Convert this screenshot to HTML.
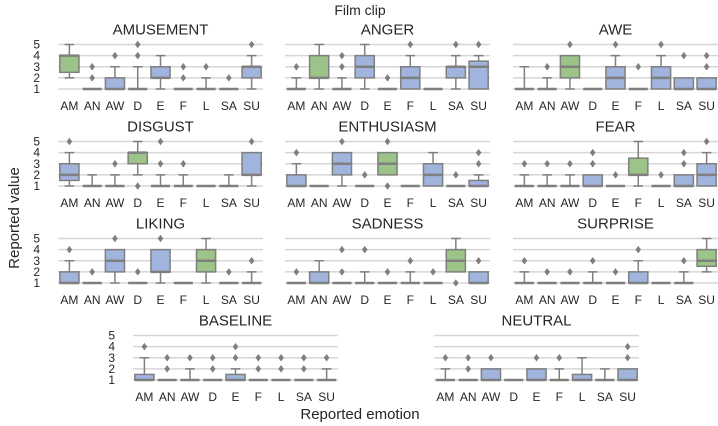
<!DOCTYPE html>
<html><head><meta charset="utf-8"><style>
html,body{margin:0;padding:0;background:#fff;}
svg{display:block;font-family:"Liberation Sans","DejaVu Sans",sans-serif;}
</style></head><body>
<svg id="chart" width="718" height="426" viewBox="0 0 718 426" xmlns="http://www.w3.org/2000/svg">
<text x="360" y="15" text-anchor="middle" font-size="14" fill="#262626">Film clip</text>
<text transform="translate(19,218) rotate(-90)" text-anchor="middle" font-size="15" fill="#262626">Reported value</text>
<text x="360" y="419" text-anchor="middle" font-size="15" fill="#262626">Reported emotion</text>
</svg>
<script>
const categories = ["AM","AN","AW","D","E","F","L","SA","SU"];
const yTicks = [1,2,3,4,5];
const panelTitles = ["AMUSEMENT","ANGER","AWE","DISGUST","ENTHUSIASM","FEAR","LIKING","SADNESS","SURPRISE","BASELINE","NEUTRAL"];
const highlightIndex = [0,1,2,3,4,5,6,7,8,-1,-1];
// stats per category: [whiskerLow, q1, median, q3, whiskerHigh]
const amusementStats = [[2,2.5,4,4,5],[1,1,1,1,1],[1,1,1,2,3],[1,1,1,1,3],[1,2,2,3,4],[1,1,1,1,1],[1,1,1,1,2],[1,1,1,1,1],[1,2,3,3,4]];
const amusementOut = [[],[2,3],[4],[4,5],[],[2,3],[3],[2],[5]];
const angerStats = [[1,1,1,1,2],[1,2,2,4,5],[1,1,1,1,2],[1,2,3,4,5],[1,1,1,1,1],[1,1,2,3,4],[1,1,1,1,1],[1,2,3,3,4],[1,1,3,3.5,4]];
const angerOut = [[3],[],[3,4],[],[2],[5],[],[5],[5]];
const aweStats = [[1,1,1,1,3],[1,1,1,1,2],[1,2,3,4,4],[1,1,1,1,1],[1,1,2,3,4],[1,1,1,1,1],[1,1,2,3,4],[1,1,1,2,2],[1,1,1,2,2]];
const aweOut = [[],[3],[5],[],[5],[3],[5],[4],[3,4]];
const disgustStats = [[1,1.5,2,3,4],[1,1,1,1,2],[1,1,1,1,2],[2,3,4,4,5],[1,1,1,1,2],[1,1,1,1,2],[1,1,1,1,1],[1,1,1,1,2],[1,2,2,4,4]];
const disgustOut = [[5],[],[3],[1],[3,5],[3],[],[],[5]];
const enthusiasmStats = [[1,1,1,2,3],[1,1,1,1,1],[1,2,3,4,4],[1,1,1,1,1],[2,2,3,4,4],[1,1,1,1,1],[1,1,2,3,4],[1,1,1,1,1],[1,1,1,1.5,2]];
const enthusiasmOut = [[4],[],[5],[2],[1,5],[],[],[2],[3,4]];
const fearStats = [[1,1,1,1,2],[1,1,1,1,2],[1,1,1,1,2],[1,1,1,2,2],[1,1,1,1,1],[1,2,2,3.5,5],[1,1,1,1,1],[1,1,1,2,2],[1,1,2,3,4]];
const fearOut = [[3],[3],[3],[3,4],[2],[],[2],[3,4],[5]];
const likingStats = [[1,1,1,2,3],[1,1,1,1,1],[1,2,3,4,4],[1,1,1,1,1],[1,2,2,4,4],[1,1,1,1,1],[1,2,3,4,5],[1,1,1,1,1],[1,1,1,1,2]];
const likingOut = [[4],[2],[5],[2],[5],[],[],[2],[3]];
const sadnessStats = [[1,1,1,1,1],[1,1,1,2,3],[1,1,1,1,1],[1,1,1,1,2],[1,1,1,1,1],[1,1,1,1,2],[1,1,1,1,1],[2,2,3,4,5],[1,1,1,2,2]];
const sadnessOut = [[2],[],[2,4],[4],[2],[3],[2],[1],[3]];
const surpriseStats = [[1,1,1,1,2],[1,1,1,1,1],[1,1,1,1,1],[1,1,1,1,2],[1,1,1,1,1],[1,1,1,2,3],[1,1,1,1,1],[1,1,1,1,2],[2,2.5,3,4,5]];
const surpriseOut = [[3],[2],[2],[3],[2],[4],[],[3],[]];
const baselineStats = [[1,1,1,1.5,3],[1,1,1,1,1],[1,1,1,1,2],[1,1,1,1,1],[1,1,1,1.5,2],[1,1,1,1,1],[1,1,1,1,1],[1,1,1,1,1],[1,1,1,1,2]];
const baselineOut = [[4],[2,3],[3],[2,3],[3,4],[2,3],[2,3],[2,3],[3]];
const neutralStats = [[1,1,1,1,2],[1,1,1,1,1],[1,1,1,2,2],[1,1,1,1,1],[1,1,1,2,2],[1,1,1,1,2],[1,1,1,1.5,3],[1,1,1,1,2],[1,1,1,2,2]];
const neutralOut = [[3],[2,3],[3],[],[3],[3],[],[],[3,4]];

const allStats = [amusementStats,angerStats,aweStats,disgustStats,enthusiasmStats,fearStats,likingStats,sadnessStats,surpriseStats,baselineStats,neutralStats];
const allOut = [amusementOut,angerOut,aweOut,disgustOut,enthusiasmOut,fearOut,likingOut,sadnessOut,surpriseOut,baselineOut,neutralOut];

const NS = "http://www.w3.org/2000/svg";
const svg = document.getElementById("chart");
const GRAY = "#7f7f7f", BLUE = "#a1b4de", GREEN = "#9cc488";
const colX = [58,285,513];
const rowY1 = [89,186,283,380];
const PW = 205, PH = 44.5;
const layout = [];
for (let i = 0; i < 9; i++) layout.push([colX[i%3], rowY1[Math.floor(i/3)], i%3===0]);
layout.push([133, rowY1[3], true]);
layout.push([434, rowY1[3], false]);

function mk(tag, attrs, parent){ const e=document.createElementNS(NS,tag); for(const k in attrs) e.setAttribute(k,attrs[k]); (parent||svg).appendChild(e); return e; }

layout.forEach((L, p) => {
  const x0 = L[0], yBase = L[1];
  const g = mk("g", {});
  
  
  const yS = v => yBase - (v - 1) * (PH / 4);
  const slot = PW / categories.length;
  const xS = i => x0 + slot * (i + 0.5);
  const t = mk("text", {x: x0 + PW/2, y: yBase - PH - 10, "text-anchor":"middle", "font-size":"15", fill:"#262626"}, g);
  t.textContent = panelTitles[p];
  
  
  yTicks.forEach(v => {
    const gl = mk("line", {x1:x0, x2:x0+PW, y1:yS(v), y2:yS(v), stroke:"#d6d6d6", "stroke-width":"1.5"}, g);
    
    
    if (L[2]) {
      const tl = mk("text", {x: x0 - 18, y: yS(v) + 4, "text-anchor":"end", "font-size":"12", fill:"#262626"}, g);
      tl.textContent = v;
      
      
    }
  });
  categories.forEach((c, i) => {
    const s = allStats[p][i];
    const cx = xS(i), bw = slot * 0.84, cw = bw * 0.5;
    const bg = mk("g", {}, g);
    
    
    if (s[4] > s[3]) {
      mk("line", {x1:cx, x2:cx, y1:yS(s[3]), y2:yS(s[4]), stroke:GRAY, "stroke-width":"1.5"}, bg);
      mk("line", {x1:cx-cw/2, x2:cx+cw/2, y1:yS(s[4]), y2:yS(s[4]), stroke:GRAY, "stroke-width":"1.5"}, bg);
    }
    if (s[0] < s[1]) {
      mk("line", {x1:cx, x2:cx, y1:yS(s[0]), y2:yS(s[1]), stroke:GRAY, "stroke-width":"1.5"}, bg);
      mk("line", {x1:cx-cw/2, x2:cx+cw/2, y1:yS(s[0]), y2:yS(s[0]), stroke:GRAY, "stroke-width":"1.5"}, bg);
    }
    if (s[3] > s[1]) {
      mk("rect", {x:cx-bw/2, y:yS(s[3]), width:bw, height:yS(s[1])-yS(s[3]), fill: i===highlightIndex[p]?GREEN:BLUE, stroke:GRAY, "stroke-width":"1.5"}, bg);
    }
    mk("line", {x1:cx-bw/2, x2:cx+bw/2, y1:yS(s[2]), y2:yS(s[2]), stroke:GRAY, "stroke-width":"2.5"}, bg);
    allOut[p][i].forEach(v => {
      const d = mk("path", {d:`M${cx},${yS(v)-3.8}L${cx+2.8},${yS(v)}L${cx},${yS(v)+3.8}L${cx-2.8},${yS(v)}Z`, fill:GRAY}, bg);
      
      
    });
    const xl = mk("text", {x:cx, y:yBase+21, "text-anchor":"middle", "font-size":"12", fill:"#262626"}, g);
    xl.textContent = c;
    
    
  });
});
</script>
</body></html>
